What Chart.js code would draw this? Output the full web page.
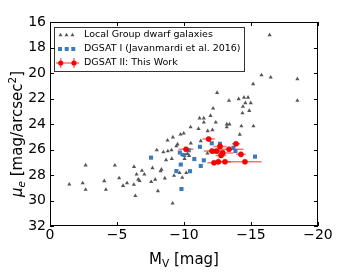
<!DOCTYPE html>
<html>
<head>
<meta charset="utf-8">
<script src="https://cdn.jsdelivr.net/npm/chart.js@4.4.1/dist/chart.umd.min.js"></script>
<style>
  html, body { margin: 0; padding: 0; background: #fff; }
</style>
</head>
<body>
<canvas id="myChart" width="340" height="272"></canvas>
<script>
// Local Group dwarf galaxies (M_V, mu_e)
const lgMv = [-16.39, -15.78, -16.47, -18.46, -15.16, -12.47, -13.36, -14.08, -14.48, -14.78,
              -18.46, -14.58, -14.98, -14.40, -14.87, -14.36, -12.17, -11.98, -11.16, -11.48,
              -11.48, -12.37, -10.49, -11.08, -11.77, -12.12, -13.19, -13.39, -13.19, -14.28,
              -15.18, -14.16, -9.74, -9.98, -8.77, -9.17, -10.51, -11.25, -7.97, -8.46,
              -8.79, -9.07, -9.43, -9.52, -10.26, -10.38, -10.04, -8.66, -9.09, -11.75,
              -12.17, -9.86, -7.65, -8.32, -8.25, -7.55, -7.85, -8.57, -9.26, -9.67,
              -10.17, -9.87, -8.05, -9.15, -2.66, -4.84, -1.44, -2.44, -2.66, -4.05,
              -4.17, -5.16, -5.45, -5.75, -6.27, -6.26, -6.46, -6.37, -6.58, -6.68,
              -6.86, -7.04];
const lgMu = [17.02, 20.16, 20.34, 20.47, 20.86, 21.55, 22.17, 22.04, 21.92, 21.92,
              22.17, 22.35, 22.35, 22.64, 22.96, 23.14, 22.77, 23.35, 23.55, 23.55,
              23.87, 23.87, 24.24, 24.37, 24.55, 24.47, 24.02, 24.02, 24.24, 24.16,
              24.16, 24.82, 24.81, 24.73, 25.28, 25.04, 25.51, 25.33, 26.05, 26.20,
              26.12, 26.05, 25.73, 25.59, 26.33, 26.49, 26.72, 26.82, 26.72, 26.30,
              26.20, 26.43, 27.45, 27.57, 27.69, 28.53, 28.35, 28.25, 28.05, 27.83,
              27.83, 28.20, 29.25, 30.22, 27.23, 27.24, 28.73, 28.63, 29.15, 28.47,
              29.15, 28.24, 28.84, 28.64, 27.35, 28.75, 27.95, 29.63, 28.34, 28.45,
              27.66, 27.95];

// DGSAT I (Javanmardi et al. 2016)
const d1Mv = [-12.07, -12.68, -11.19, -10.36, -9.69, -10.02, -10.77, -11.48, -9.76, -11.25,
              -7.54, -9.43, -10.45, -9.81, -13.69, -13.84, -15.30];
const d1Mu = [25.51, 25.55, 25.79, 26.06, 26.24, 26.43, 26.75, 26.85, 27.18, 27.29,
              26.64, 27.69, 27.70, 29.10, 25.87, 26.12, 26.56];

// DGSAT II: This Work, with errors
const d2Mv    = [-11.84, -10.15, -12.69, -13.88, -12.09, -12.44, -13.36, -12.89, -12.76, -14.25, -12.24, -12.56, -13.06, -14.55];
const d2Mu    = [25.18, 25.98, 25.76, 25.55, 26.12, 26.12, 25.98, 26.27, 26.47, 26.38, 27.04, 26.96, 26.96, 26.96];
const d2MvErr = [0.47, 0.56, 0.50, 0.30, 0.60, 0.60, 1.08, 0.80, 0.40, 0.35, 0.50, 0.40, 0.45, 1.24];
const d2MuErr = [0.10, 0.10, 0.10, 0.10, 0.10, 0.10, 0.10, 0.10, 0.10, 0.10, 0.10, 0.24, 0.10, 0.10];

const xTicks = [0, -5, -10, -15, -20];
const yTicks = [16, 18, 20, 22, 24, 26, 28, 30, 32];

const seriesNames = ['Local Group dwarf galaxies', 'DGSAT I (Javanmardi et al. 2016)', 'DGSAT II: This Work'];

const FONT = 'DejaVu Sans';
const GRAY = '#555555', BLUE = '#3a7bbd', RED = '#ff0000';

function toPoints(xs, ys) {
    return xs.map((v, i) => ({ x: v, y: ys[i] }));
}

function fmtTick(v) {
    return v < 0 ? '\u2212' + Math.abs(v) : String(v);
}

function tri(ctx, x, y, r) {
    ctx.beginPath();
    for (let k = 0; k < 3; k++) {
        const a = k * 2 * Math.PI / 3;
        const px = x + Math.sin(a) * r, py = y - Math.cos(a) * r;
        k === 0 ? ctx.moveTo(px, py) : ctx.lineTo(px, py);
    }
    ctx.closePath();
    ctx.fill();
}

const extras = {
    id: 'extras',
    beforeDatasetDraw(chart, args) {
        if (args.index !== 2) return;
        const { ctx, scales: { x, y } } = chart;
        ctx.save();
        ctx.strokeStyle = 'rgba(255,0,0,0.55)';
        ctx.lineWidth = 1.5;
        d2Mv.forEach((v, i) => {
            const px = x.getPixelForValue(v), py = y.getPixelForValue(d2Mu[i]);
            ctx.beginPath();
            ctx.moveTo(x.getPixelForValue(v - d2MvErr[i]), py);
            ctx.lineTo(x.getPixelForValue(v + d2MvErr[i]), py);
            ctx.moveTo(px, y.getPixelForValue(d2Mu[i] - d2MuErr[i]));
            ctx.lineTo(px, y.getPixelForValue(d2Mu[i] + d2MuErr[i]));
            ctx.stroke();
        });
        ctx.restore();
    },
    afterDraw(chart) {
        const { ctx, chartArea: ca, scales: { x, y } } = chart;
        ctx.save();

        // frame + inward ticks
        ctx.strokeStyle = '#000';
        ctx.lineWidth = 1;
        ctx.strokeRect(ca.left + 0.5, ca.top + 0.5, ca.right - ca.left - 1, ca.bottom - ca.top - 1);
        ctx.beginPath();
        xTicks.forEach(v => {
            const px = Math.round(x.getPixelForValue(v)) + 0.5;
            ctx.moveTo(px, ca.bottom); ctx.lineTo(px, ca.bottom - 4);
            ctx.moveTo(px, ca.top); ctx.lineTo(px, ca.top + 4);
        });
        yTicks.forEach(v => {
            const py = Math.round(y.getPixelForValue(v)) + 0.5;
            ctx.moveTo(ca.left, py); ctx.lineTo(ca.left + 4, py);
            ctx.moveTo(ca.right, py); ctx.lineTo(ca.right - 4, py);
        });
        ctx.stroke();

        // legend box
        const bx = ca.left + 4, by = ca.top + 5;
        ctx.fillStyle = '#fff';
        ctx.fillRect(bx, by, 190, 44);
        ctx.strokeStyle = '#333';
        ctx.strokeRect(bx + 0.5, by + 0.5, 190, 44);

        const rows = [by + 8, by + 22, by + 36];
        ctx.fillStyle = GRAY;
        [6.5, 12.5, 18.5].forEach(dx => tri(ctx, bx + dx, rows[0], 2.3));
        ctx.fillStyle = BLUE;
        [6, 12.7, 19.3].forEach(dx => ctx.fillRect(bx + dx - 2, rows[1] - 2, 4, 4));

        ctx.strokeStyle = 'rgba(255,0,0,0.55)';
        ctx.lineWidth = 1.5;
        ctx.beginPath();
        ctx.moveTo(bx + 2, rows[2]); ctx.lineTo(bx + 25, rows[2]);
        [6.7, 20].forEach(dx => { ctx.moveTo(bx + dx, rows[2] - 5); ctx.lineTo(bx + dx, rows[2] + 5); });
        ctx.stroke();
        ctx.fillStyle = RED;
        [6.7, 20].forEach(dx => { ctx.beginPath(); ctx.arc(bx + dx, rows[2], 2.6, 0, 2 * Math.PI); ctx.fill(); });

        ctx.fillStyle = '#000';
        ctx.font = '9.5px "' + FONT + '"';
        ctx.textBaseline = 'middle';
        ctx.textAlign = 'left';
        seriesNames.forEach((s, i) => ctx.fillText(s, bx + 30, rows[i]));

        // x title: M_V [mag]
        ctx.textBaseline = 'alphabetic';
        const big = '15px "' + FONT + '"', small = '10.5px "' + FONT + '"';
        ctx.font = big;
        const wM = ctx.measureText('M').width, wR = ctx.measureText(' [mag]').width;
        ctx.font = small;
        const wV = ctx.measureText('V').width;
        let sx = (ca.left + ca.right) / 2 - (wM + wV + wR) / 2;
        const base = 264;
        ctx.font = big; ctx.fillText('M', sx, base); sx += wM;
        ctx.font = small; ctx.fillText('V', sx, base + 3); sx += wV;
        ctx.font = big; ctx.fillText(' [mag]', sx, base);

        // y title: mu_e [mag/arcsec^2]
        ctx.translate(22, 134);
        ctx.rotate(-Math.PI / 2);
        const parts = [
            ['\u03bc', 'italic 15px "' + FONT + '"', 0],
            ['e', 'italic 10.5px "' + FONT + '"', 3],
            [' [mag/arcsec', big, 0],
            ['2', small, -6],
            [']', big, 0]
        ];
        let total = 0;
        parts.forEach(p => { ctx.font = p[1]; p.push(ctx.measureText(p[0]).width); total += p[3]; });
        let tx = -total / 2;
        parts.forEach(p => { ctx.font = p[1]; ctx.fillText(p[0], tx, p[2]); tx += p[3]; });

        ctx.restore();
    }
};

document.addEventListener('DOMContentLoaded', function() {
    const ctx = document.getElementById('myChart').getContext('2d');
    new Chart(ctx, {
        type: 'scatter',
        data: {
            datasets: [
                { label: seriesNames[2], data: toPoints(d2Mv, d2Mu), order: 1,
                  pointStyle: 'circle', pointRadius: 2.6, backgroundColor: RED, borderColor: '#cc0000', borderWidth: 0.5 },
                { label: seriesNames[1], data: toPoints(d1Mv, d1Mu), order: 2,
                  pointStyle: 'rect', pointRadius: 2.9, backgroundColor: BLUE, borderColor: BLUE, borderWidth: 0 },
                { label: seriesNames[0], data: toPoints(lgMv, lgMu), order: 3,
                  pointStyle: 'triangle', pointRadius: 2.4, backgroundColor: GRAY, borderColor: GRAY, borderWidth: 0 }
            ]
        },
        options: {
            responsive: false,
            animation: false,
            devicePixelRatio: 1,
            layout: { padding: { top: 22, right: 22, left: 0, bottom: 0 } },
            plugins: { legend: { display: false }, tooltip: { enabled: false } },
            scales: {
                x: {
                    type: 'linear', min: -20, max: 0, reverse: true,
                    afterBuildTicks: s => { s.ticks = xTicks.map(v => ({ value: v })); },
                    afterFit: s => { s.height = 46; },
                    grid: { display: false, drawTicks: false },
                    border: { display: false },
                    ticks: { callback: fmtTick, color: '#000', padding: 1, maxRotation: 0, autoSkip: false,
                             font: { family: FONT, size: 14 } }
                },
                y: {
                    type: 'linear', min: 16, max: 32, reverse: true,
                    afterBuildTicks: s => { s.ticks = yTicks.map(v => ({ value: v })); },
                    afterFit: s => { s.width = 50; },
                    grid: { display: false, drawTicks: false },
                    border: { display: false },
                    ticks: { color: '#000', padding: 4, autoSkip: false,
                             font: { family: FONT, size: 14 } }
                }
            }
        },
        plugins: [extras]
    });
});
</script>
</body>
</html>
